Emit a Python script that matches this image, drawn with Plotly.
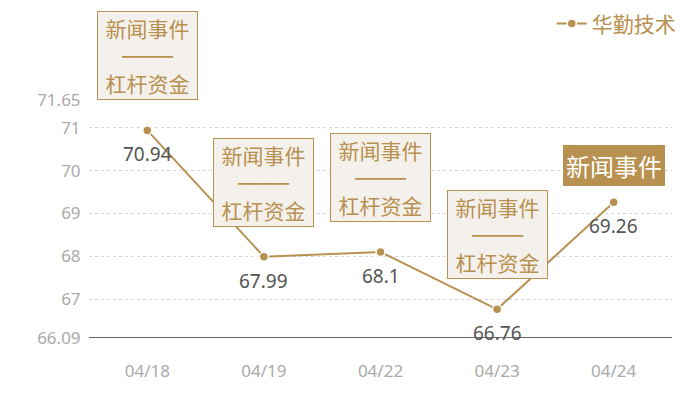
import plotly.graph_objects as go

dates = ["04/18", "04/19", "04/22", "04/23", "04/24"]
prices = [70.94, 67.99, 68.1, 66.76, 69.26]
value_labels = ["70.94", "67.99", "68.1", "66.76", "69.26"]
DASH = "<span style='font-family:DejaVu Sans Mono'>────</span>"
events = ["新闻事件<br>" + DASH + "<br>杠杆资金"] * 4 + ["新闻事件"]
y_ticks = [66.09, 67, 68, 69, 70, 71, 71.65]
y_tick_labels = ["66.09", "67", "68", "69", "70", "71", "71.65"]

GOLD = "#b8904f"
CJK = "Noto Sans CJK SC"

fig = go.Figure()
fig.add_trace(go.Scatter(
    x=dates, y=prices, name="华勤技术",
    mode="lines+markers",
    line=dict(color=GOLD, width=2),
    marker=dict(color=GOLD, size=9, line=dict(color="white", width=1.5)),
))

for i, (d, p, ev, lbl) in enumerate(zip(dates, prices, events, value_labels)):
    last = i == len(dates) - 1
    # value under the point
    fig.add_annotation(
        x=d, y=p, text=lbl, showarrow=False, yanchor="middle", yshift=-24,
        font=dict(family="Noto Sans", size=19, color="#555555"),
    )
    # event box above the point, the last one is filled
    if last:
        fig.add_annotation(
            x=d, y=p, text=ev, showarrow=False, yanchor="bottom", yshift=16,
            font=dict(family=CJK, size=24, color="white"),
            bgcolor=GOLD, bordercolor=GOLD, borderwidth=1, borderpad=2,
        )
    else:
        fig.add_annotation(
            x=d, y=p, text=ev, showarrow=False, yanchor="bottom", yshift=30,
            width=97,
            font=dict(family=CJK, size=21, color=GOLD),
            bgcolor="#f4f0eb", bordercolor=GOLD, borderwidth=1, borderpad=1,
        )

# page body adds 8px, so margins are 8px smaller on the left and top
fig.update_layout(
    width=700, height=400,
    margin=dict(l=81, r=36, t=92, b=70, autoexpand=False),
    plot_bgcolor="white", paper_bgcolor="white",
    showlegend=True,
    legend=dict(x=1.015, xanchor="right", y=1.32, yanchor="middle",
                font=dict(family=CJK, size=21, color=GOLD),
                bgcolor="rgba(0,0,0,0)", itemwidth=30),
    font=dict(family="Noto Sans"),
)
fig.update_xaxes(
    type="category", range=[-0.5, 4.5], showgrid=False,
    showline=False, ticks="outside", ticklen=18, tickcolor="rgba(0,0,0,0)",
    tickfont=dict(size=17, color="#aaaaaa"),
)
fig.update_yaxes(
    range=[66.09, 71.65], tickvals=y_ticks, ticktext=y_tick_labels,
    showgrid=True, gridcolor="#d6d6d6", griddash="dot", gridwidth=1,
    zeroline=False, showline=False, ticks="outside", ticklen=4,
    tickcolor="rgba(0,0,0,0)",
    tickfont=dict(size=17, color="#aaaaaa"),
)
# dark baseline at bottom of plot
fig.add_shape(type="line", xref="paper", yref="y", x0=0, x1=1,
              y0=y_ticks[0], y1=y_ticks[0], line=dict(color="#333333", width=1.5))

fig.write_html("out.html")
